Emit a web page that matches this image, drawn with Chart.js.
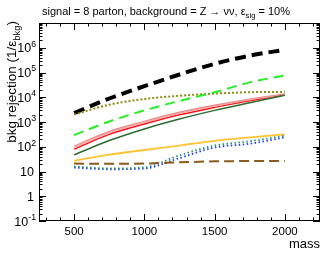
<!DOCTYPE html>
<html>
<head>
<meta charset="utf-8">
<script src="https://cdn.jsdelivr.net/npm/chart.js@4.4.0/dist/chart.umd.min.js"></script>
<style>
  body { margin: 0; background: #fff; }
  #wrap { width: 330px; height: 255px; }
</style>
</head>
<body>
<div id="wrap"><canvas id="c" width="330" height="255"></canvas></div>
<script>
// values
const masses = [500, 750, 1000, 1250, 1500, 1750, 2000];

const blackDashed = [2300, 8900, 28000, 83000, 224000, 480000, 830000];
const oliveDotted = [2000, 5000, 8500, 11500, 14000, 16000, 16500];
const greenDashed = [295, 1050, 2950, 7100, 15800, 40000, 76000];
const pinkUpper   = [107, 420, 1070, 2500, 4800, 8500, 13800];
const pinkLower   = [93, 370, 950, 2240, 4400, 7900, 13200];
const redSolid    = [80, 316, 830, 1950, 3900, 7200, 12600];
const darkGreen   = [47, 178, 525, 1320, 2950, 6000, 12000];
const orangeSolid = [27, 48, 74, 112, 174, 240, 316];
const brownDashed = [21, 20.4, 21, 23.4, 25.7, 26.3, 26.3];
const blueDotted  = [14.5, 12.3, 13.2, 35, 93, 132, 240];
const tealDotted  = [16, 13.2, 14.8, 45, 112, 166, 280];

const xTickLabels = [500, 1000, 1500, 2000];
const yTickExps = [-1, 0, 1, 2, 3, 4, 5, 6];

const FONT = '"Liberation Sans", Arial, sans-serif';

function series(values, color, width, dash) {
  return {
    data: masses.map((m, i) => ({ x: m, y: values[i] })),
    borderColor: color,
    borderWidth: width,
    borderDash: dash || [],
    pointRadius: 0,
    fill: false,
    cubicInterpolationMode: 'monotone'
  };
}

// text with subscript / superscript pieces
function richWidth(ctx, parts, size) {
  let w = 0;
  parts.forEach(p => {
    ctx.font = (p.sub || p.sup ? size * 0.7 : size) + 'px ' + FONT;
    w += ctx.measureText(p.t).width;
  });
  return w;
}
function drawRich(ctx, parts, x, y, size) {
  parts.forEach(p => {
    const s = p.sub || p.sup ? size * 0.7 : size;
    ctx.font = s + 'px ' + FONT;
    const dy = p.sub ? size * 0.3 : (p.sup ? -size * 0.45 : 0);
    ctx.fillText(p.t, x, y + dy);
    x += ctx.measureText(p.t).width;
  });
}

const rootStyle = {
  id: 'rootStyle',
  afterDraw(chart) {
    const { ctx, chartArea: a, scales } = chart;
    const x = scales.x, y = scales.y;
    ctx.save();
    ctx.strokeStyle = '#000';
    ctx.fillStyle = '#000';
    ctx.lineWidth = 1;

    // frame
    ctx.strokeRect(a.left + 0.5, a.top + 0.5, a.right - a.left - 1, a.bottom - a.top - 1);

    const seg = (x1, y1, x2, y2) => {
      ctx.beginPath(); ctx.moveTo(x1, y1); ctx.lineTo(x2, y2); ctx.stroke();
    };

    // x ticks (bottom and top)
    for (let m = 300; m <= 2200; m += 100) {
      const px = Math.round(x.getPixelForValue(m)) + 0.5;
      const len = m % 500 === 0 ? 7 : 3.5;
      seg(px, a.bottom, px, a.bottom - len);
      seg(px, a.top, px, a.top + len);
    }
    // y ticks (left and right)
    for (let e = -1; e <= 6; e++) {
      for (let k = 1; k <= 9; k++) {
        const v = k * Math.pow(10, e);
        const py = Math.round(y.getPixelForValue(v)) + 0.5;
        const len = k === 1 ? 7 : 3.5;
        seg(a.left, py, a.left + len, py);
        seg(a.right, py, a.right - len, py);
      }
    }

    // x tick labels
    ctx.font = '11.5px ' + FONT;
    ctx.textAlign = 'center';
    ctx.textBaseline = 'alphabetic';
    xTickLabels.forEach(m => {
      ctx.fillText(String(m), x.getPixelForValue(m), a.bottom + 14);
    });

    // y tick labels
    ctx.textAlign = 'left';
    yTickExps.forEach(e => {
      const py = y.getPixelForValue(Math.pow(10, e)) + 4.5;
      let parts;
      if (e === 0) parts = [{ t: '1' }];
      else if (e === 1) parts = [{ t: '10' }];
      else parts = [{ t: '10' }, { t: e < 0 ? '-1' : String(e), sup: true }];
      const w = richWidth(ctx, parts, 12.5);
      const right = (e === 0 || e === 1) ? a.left - 5 : a.left - 3;
      drawRich(ctx, parts, right - w, py, 12.5);
    });

    // x axis title
    ctx.font = '13px ' + FONT;
    ctx.textAlign = 'right';
    ctx.fillText('mass', a.right, 248);

    // y axis title (rotated, right aligned to top)
    const yParts = [{ t: 'bkg rejection (1/\u03b5' }, { t: 'bkg', sub: true }, { t: ')' }];
    ctx.save();
    ctx.translate(16, a.top - 2);
    ctx.rotate(-Math.PI / 2);
    ctx.textAlign = 'left';
    const yw = richWidth(ctx, yParts, 13.5);
    drawRich(ctx, yParts, -yw, 0, 13.5);
    ctx.restore();

    // title
    const tParts = [
      { t: 'signal = 8 parton, background = Z \u2192 \u03bd\u03bd, \u03b5' },
      { t: 'sig', sub: true },
      { t: ' = 10%' }
    ];
    ctx.textAlign = 'left';
    const tw = richWidth(ctx, tParts, 11);
    drawRich(ctx, tParts, 166 - tw / 2, 15, 11);

    ctx.restore();
  }
};

new Chart(document.getElementById('c'), {
  type: 'line',
  data: {
    datasets: [
      series(brownDashed, '#8b5a1e', 2, [10, 5]),
      series(tealDotted, '#2e8b7a', 1.8, [1.5, 2.5]),
      series(blueDotted, '#1a3cff', 1.8, [1.5, 2.5]),
      series(orangeSolid, '#ffc233', 1.8),
      series(darkGreen, '#2f6b2f', 1.5),
      series(pinkUpper, '#e88a8a', 1.2),
      series(pinkLower, '#f0a8a8', 1.2),
      series(redSolid, '#ff1010', 1.5),
      series(greenDashed, '#22ee22', 2, [10, 6]),
      series(oliveDotted, '#8a8a10', 2, [2, 2]),
      series(blackDashed, '#000000', 4, [11, 6])
    ]
  },
  options: {
    responsive: false,
    animation: false,
    devicePixelRatio: 1,
    layout: { padding: { left: 39, right: 10, top: 23, bottom: 34 } },
    plugins: {
      legend: { display: false },
      tooltip: { enabled: false },
      title: { display: false }
    },
    scales: {
      x: { type: 'linear', min: 250, max: 2250, display: false },
      y: { type: 'logarithmic', min: 0.1, max: 1e7, display: false }
    }
  },
  plugins: [rootStyle]
});
</script>
</body>
</html>
